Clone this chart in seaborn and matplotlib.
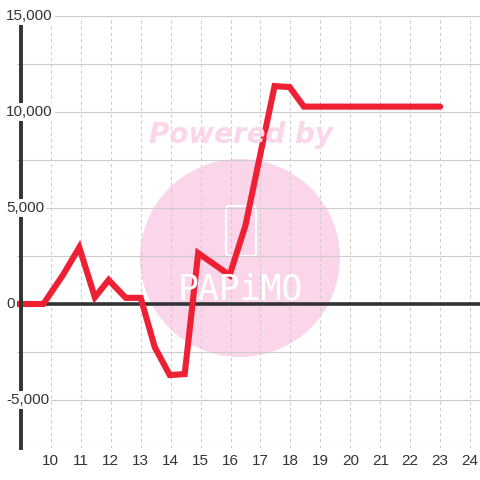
"""
Line chart recreation: single red series with zero line and watermark
"""

import matplotlib
matplotlib.use('Agg')
import matplotlib.pyplot as plt
import matplotlib.transforms as mtransforms
from matplotlib.patches import Ellipse, FancyBboxPatch
import pandas as pd
import seaborn as sns

# Data
x_values = [8.87, 9.75, 10.4, 10.95, 11.47, 11.93, 12.5, 13.0, 13.47, 13.97,
            14.47, 14.92, 15.97, 16.5, 17.47, 17.97, 18.45, 23.0]
y_values = [0, 0, 1500, 2950, 350, 1250, 320, 320, -2250, -3700,
            -3650, 2650, 1500, 4100, 11350, 11300, 10280, 10280]
x_ticks = list(range(10, 25))
y_ticks_labeled = [15000, 10000, 5000, 0, -5000]
y_tick_labels = ['15,000', '10,000', '5,000', '0', '-5,000']

LINE_COLOR = '#ee2034'
PINK = '#fbd5ea'
GRID = '#cccccc'
DARK = '#333333'

sns.set_theme(style='white')
plt.rcParams['font.family'] = ['Liberation Sans', 'DejaVu Sans']

df = pd.DataFrame({'x': x_values, 'y': y_values})

fig = plt.figure(figsize=(4.8, 4.8), dpi=100)
fig.patch.set_facecolor('white')
ax = fig.add_axes([17 / 480, 32 / 480, 463 / 480, 432 / 480])
ax.set_facecolor('white')

# Watermark (behind the grid)
circle = Ellipse((240 / 480, 1 - 258 / 480), 200 / 480, 198 / 480,
                 transform=fig.transFigure, facecolor=PINK, edgecolor='none', zorder=0.1)
ax.add_patch(circle)
icon = FancyBboxPatch((226 / 480, 1 - 256 / 480), 30 / 480, 50 / 480,
                      boxstyle='round,pad=0,rounding_size=0.008',
                      transform=fig.transFigure, facecolor='none',
                      edgecolor='white', linewidth=1.6, zorder=0.2)
ax.add_patch(icon)
fig.text(240 / 480, 1 - 290 / 480, 'PAPiMO', color='white', fontsize=25,
         family='DejaVu Sans Mono', ha='center', va='center', zorder=0.2)
fig.text(241 / 480, 1 - 135 / 480, 'Powered by', color=PINK, fontsize=20,
         family='DejaVu Sans', fontweight='bold', fontstyle='italic',
         ha='center', va='center', zorder=0.2)

# Grid
ax.set_yticks(range(-7500, 15001, 2500))
ax.set_xticks(x_ticks)
ax.grid(axis='y', color=GRID, linewidth=0.8, linestyle='-')
ax.grid(axis='x', color=GRID, linewidth=0.75, linestyle=(0, (3, 3)))
for gl in ax.get_xgridlines() + ax.get_ygridlines():
    gl.set_zorder(1)

ax.axhline(0, color=DARK, linewidth=2.6, zorder=2.5, solid_capstyle='butt')

sns.lineplot(data=df, x='x', y='y', ax=ax, color=LINE_COLOR, linewidth=4.4,
             sort=False, zorder=3)
ax.get_lines()[-1].set_solid_joinstyle('miter')

ax.set_xlim(8.87, 24.33)
ax.set_ylim(-7500, 15000)

# Spines
for side in ['top', 'right', 'bottom']:
    ax.spines[side].set_visible(False)
ax.spines['left'].set_position(('data', 9.0))
ax.spines['left'].set_color(DARK)
ax.spines['left'].set_linewidth(2.8)
ax.spines['left'].set_zorder(4)

# Ticks
ax.tick_params(axis='x', length=0, pad=4, labelsize=11, labelcolor=DARK)
ax.tick_params(axis='y', length=0, labelleft=False)
ax.set_xlabel('')
ax.set_ylabel('')

# Y labels drawn over the spine, with a white background
trans = mtransforms.blended_transform_factory(fig.transFigure, ax.transData)
for val, lab in zip(y_ticks_labeled, y_tick_labels):
    ax.text(6 / 480, val, lab, transform=trans, ha='left', va='center',
            fontsize=11, color=DARK, zorder=6, clip_on=False,
            bbox=dict(boxstyle='square,pad=0.15', facecolor='white', edgecolor='none'))

plt.savefig('out.png', dpi=100)
plt.close()
